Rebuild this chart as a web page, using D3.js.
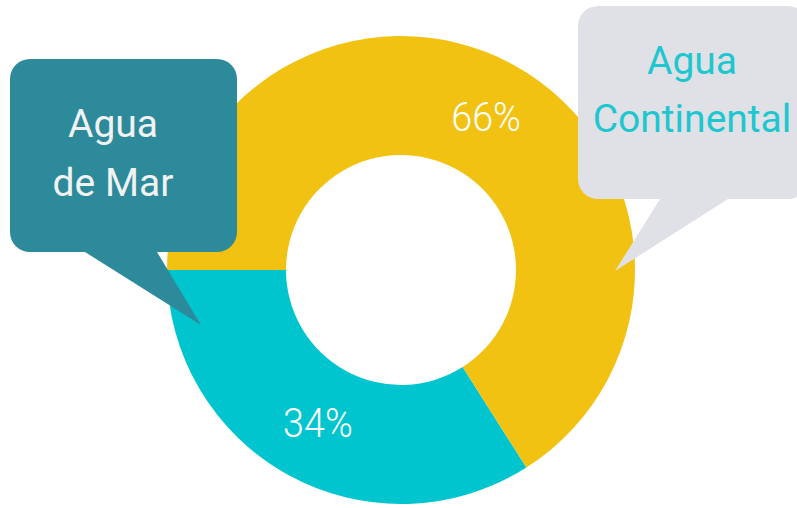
<!DOCTYPE html>
<html>
<head>
<meta charset="utf-8">
<script src="https://cdn.jsdelivr.net/npm/d3@7"></script>
<style>
  body { margin: 0; background: #fff; }
  svg { display: block; }
</style>
</head>
<body>
<div id="chart"></div>
<script>
// data
const categories = ["Agua de Mar", "Agua Continental"];
const values = [34, 66];
const labels = ["34%", "66%"];
const colors = ["#00c5cf", "#f2c213"];

const width = 797, height = 508;
const cx = 401, cy = 270;
const outerR = 234, innerR = 115;

const svg = d3.select("#chart").append("svg")
    .attr("width", width)
    .attr("height", height);

// first slice ends at 9 o'clock, where the second begins
const share0 = values[0] / d3.sum(values);
const start = 1.5 * Math.PI - share0 * 2 * Math.PI;

const pie = d3.pie()
    .sort(null)
    .startAngle(start)
    .endAngle(start + 2 * Math.PI);

const arc = d3.arc().innerRadius(innerR).outerRadius(outerR);
const arcs = pie(values);

const g = svg.append("g").attr("transform", `translate(${cx},${cy})`);

g.selectAll("path.slice")
    .data(arcs)
    .enter().append("path")
    .attr("class", "slice")
    .attr("fill", (d, i) => colors[i])
    .attr("d", arc);

g.selectAll("text.pct")
    .data(arcs)
    .enter().append("text")
    .attr("class", "pct")
    .attr("transform", d => {
        const [x, y] = arc.centroid(d);
        return `translate(${x + 1},${y + 14}) scale(0.92,1)`;
    })
    .attr("text-anchor", "middle")
    .attr("fill", "#fff")
    .style("font-family", "Roboto")
    .style("font-weight", 300)
    .style("font-size", "41px")
    .text((d, i) => labels[i]);

// speech bubble: rounded rect with a tail
function bubble(x, y, w, h, r, tail) {
    const p = d3.path();
    p.moveTo(x + r, y);
    p.lineTo(x + w - r, y);
    p.arcTo(x + w, y, x + w, y + r, r);
    p.lineTo(x + w, y + h - r);
    p.arcTo(x + w, y + h, x + w - r, y + h, r);
    p.lineTo(tail[1], y + h);
    p.lineTo(tail[2][0], tail[2][1]);
    p.lineTo(tail[0], y + h);
    p.lineTo(x + r, y + h);
    p.arcTo(x, y + h, x, y + h - r, r);
    p.lineTo(x, y + r);
    p.arcTo(x, y, x + r, y, r);
    p.closePath();
    return p.toString();
}

const callouts = [
    { box: [10, 59, 227, 193], tail: [85, 157, [201, 325]], fill: "#2d8a9a", text: "#f2f2f2",
      lines: ["Agua", "de Mar"], tx: 113, ty: [137, 196] },
    { box: [578, 6, 230, 193], tail: [660, 728, [615, 271]], fill: "#e0e1e6", text: "#1ec6cf",
      lines: ["Agua", "Continental"], tx: 692, ty: [74, 132] }
];

callouts.forEach(c => {
    const [x, y, w, h] = c.box;
    svg.append("path")
        .attr("d", bubble(x, y, w, h, 20, c.tail))
        .attr("fill", c.fill);
    c.lines.forEach((t, i) => {
        svg.append("text")
            .attr("x", c.tx)
            .attr("y", c.ty[i])
            .attr("text-anchor", "middle")
            .attr("fill", c.text)
            .style("font-family", "Roboto")
            .style("font-size", "39px")
            .text(t);
    });
});
</script>
</body>
</html>
